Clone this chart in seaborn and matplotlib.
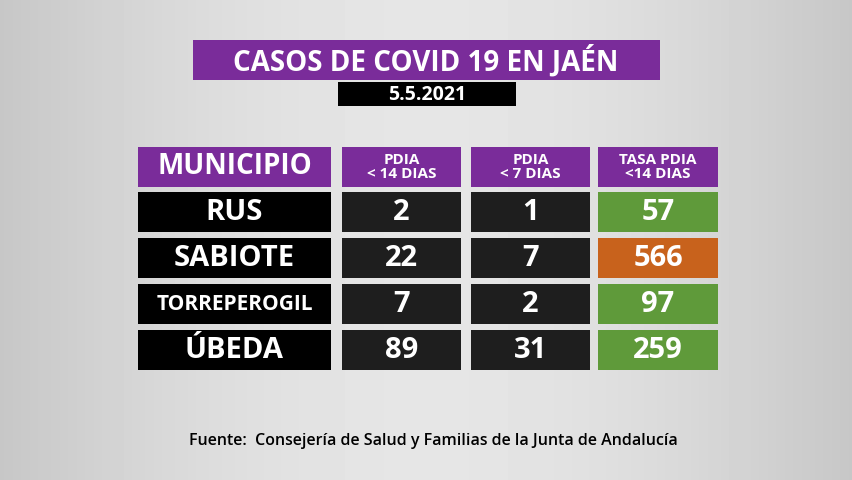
import numpy as np
import matplotlib
matplotlib.use("Agg")
import matplotlib.pyplot as plt
import seaborn as sns

sns.set_theme(style="white")
plt.rcParams["font.family"] = "Open Sans"

title = "CASOS DE COVID 19 EN JAÉN"
date = "5.5.2021"
headers = ["MUNICIPIO", "PDIA\n< 14 DIAS", "PDIA\n< 7 DIAS", "TASA PDIA\n<14 DIAS"]
municipios = ["RUS", "SABIOTE", "TORREPEROGIL", "ÚBEDA"]
pdia14 = [2, 22, 7, 89]
pdia7 = [1, 7, 2, 31]
tasa14 = [57, 566, 97, 259]
source = "Fuente:  Consejería de Salud y Familias de la Junta de Andalucía"

purple = "#7a2c9a"
green = "#5f9a3a"
orange = "#c8621c"

# column geometry (pixels)
col_left = [138, 342, 471, 598]
col_w = [193, 119, 119, 120]
row_top = [192, 238, 284, 330]
row_h = 40

fig = plt.figure(figsize=(8.53, 4.8), dpi=100)
ax = fig.add_axes([0, 0, 1, 1])
ax.set_xlim(0, 853)
ax.set_ylim(480, 0)
ax.axis("off")

# background gradient
g = np.linspace(0, 1, 200)
bg = np.outer(np.ones(100), 0.78 + 0.12 * np.sin(g * np.pi))
ax.imshow(bg, cmap="gray", vmin=0, vmax=1, extent=[0, 853, 480, 0], aspect="auto", zorder=0)

# title and date
ax.bar(193, 40, width=467, bottom=40, align="edge", color=purple, linewidth=0, zorder=2)
ax.text(426, 61, title, color="white", fontsize=20, fontweight="bold", ha="center", va="center", zorder=3)
ax.bar(338, 24, width=178, bottom=82, align="edge", color="black", linewidth=0, zorder=2)
ax.text(427, 95, date, color="white", fontsize=14, fontweight="bold", ha="center", va="center", zorder=3)

# header
for i, h in enumerate(headers):
    ax.bar(col_left[i], 40, width=col_w[i], bottom=147, align="edge", color=purple, linewidth=0, zorder=2)
    fs = 20 if i == 0 else 11
    ax.text(col_left[i] + col_w[i] / 2, 167, h, color="white", fontsize=fs, fontweight="bold",
            ha="center", va="center", linespacing=1.0, zorder=3)

# rows
tasa_colors = [orange if t > 500 else green for t in tasa14]
for r, name in enumerate(municipios):
    vals = [name, pdia14[r], pdia7[r], tasa14[r]]
    cols = ["black", "#1e1e1e", "#1e1e1e", tasa_colors[r]]
    for c in range(4):
        ax.bar(col_left[c], row_h, width=col_w[c], bottom=row_top[r], align="edge", color=cols[c],
               linewidth=0, zorder=2)
        fs = 21
        if c == 0 and len(name) > 10:
            fs = 15
        ax.text(col_left[c] + col_w[c] / 2, row_top[r] + row_h / 2 + 1, str(vals[c]), color="white",
                fontsize=fs, fontweight="bold", ha="center", va="center", zorder=3)

ax.text(433, 441, source, color="black", fontsize=11.5, fontweight="semibold", ha="center", va="center", zorder=3)

fig.savefig("out.png", dpi=100)
